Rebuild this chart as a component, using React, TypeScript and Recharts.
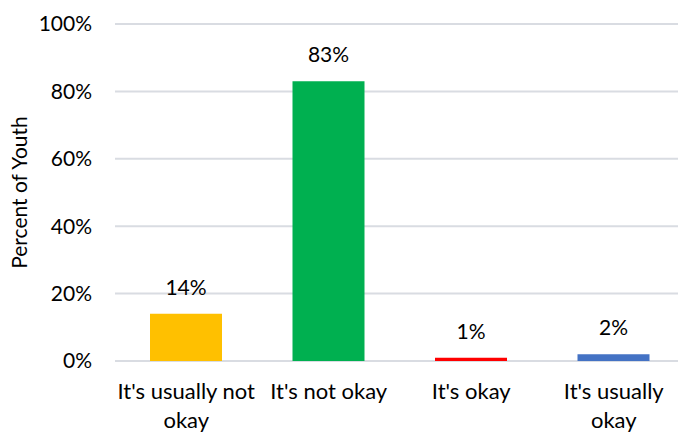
import React from "react";
import { BarChart, Bar, XAxis, YAxis, CartesianGrid, LabelList, Cell } from "recharts";

const categories = ["It's usually not okay", "It's not okay", "It's okay", "It's usually okay"];
const tickLines = [["It's usually not", "okay"], ["It's not okay"], ["It's okay"], ["It's usually", "okay"]];
const values = [14, 83, 1, 2];
const labels = ["14%", "83%", "1%", "2%"];
const colors = ["#FFC000", "#00B050", "#FF0000", "#4472C4"];
const yTicks = [0, 20, 40, 60, 80, 100];

const data = categories.map((c, i) => ({ name: c, value: values[i], label: labels[i] }));

const FONT = "Lato, 'Open Sans', sans-serif";
const FS = 21;

const XTick = (props: any) => {
  const { x, y, index } = props;
  const lines = tickLines[index] || [props.payload.value];
  return (
    <text x={x} y={y} textAnchor="middle" style={{ fontFamily: FONT, fontSize: 22, fill: "#000" }}>
      {lines.map((l, i) => (
        <tspan key={i} x={x} dy={i === 0 ? 0 : 28.5}>
          {l}
        </tspan>
      ))}
    </text>
  );
};

const YLabel = () => (
  <text
    x={18}
    y={192.5}
    transform="rotate(-90 18 192.5)"
    textAnchor="middle"
    dominantBaseline="central"
    style={{ fontFamily: FONT, fontSize: FS, fill: "#000" }}
  >
    Percent of Youth
  </text>
);

export default function App() {
  return (
    <div style={{ position: "absolute", left: 0, top: 0, width: 678, height: 432, overflow: "hidden", background: "#fff" }}>
      <BarChart
        width={690}
        height={432}
        data={data}
        margin={{ top: 24, right: 5, bottom: 0, left: 0 }}
      >
        <CartesianGrid vertical={false} stroke="#D9DCE2" strokeWidth={2} />
        <XAxis
          dataKey="name"
          axisLine={false}
          tickLine={false}
          height={71}
          interval={0}
          tick={<XTick />}
          tickSize={0}
          tickMargin={38}
        />
        <YAxis
          width={115}
          domain={[0, 100]}
          ticks={yTicks}
          tickFormatter={(v: number) => `${v}%`}
          axisLine={false}
          tickLine={false}
          tickSize={0}
          tickMargin={23}
          tick={{ fontFamily: FONT, fontSize: FS, fill: "#000" }}
          label={<YLabel />}
        />
        <Bar dataKey="value" barSize={72} isAnimationActive={false}>
          {data.map((d, i) => (
            <Cell key={d.name} fill={colors[i]} />
          ))}
          <LabelList
            dataKey="label"
            position="top"
            offset={19}
            style={{ fontFamily: FONT, fontSize: FS, fill: "#000" }}
          />
        </Bar>
      </BarChart>
    </div>
  );
}
